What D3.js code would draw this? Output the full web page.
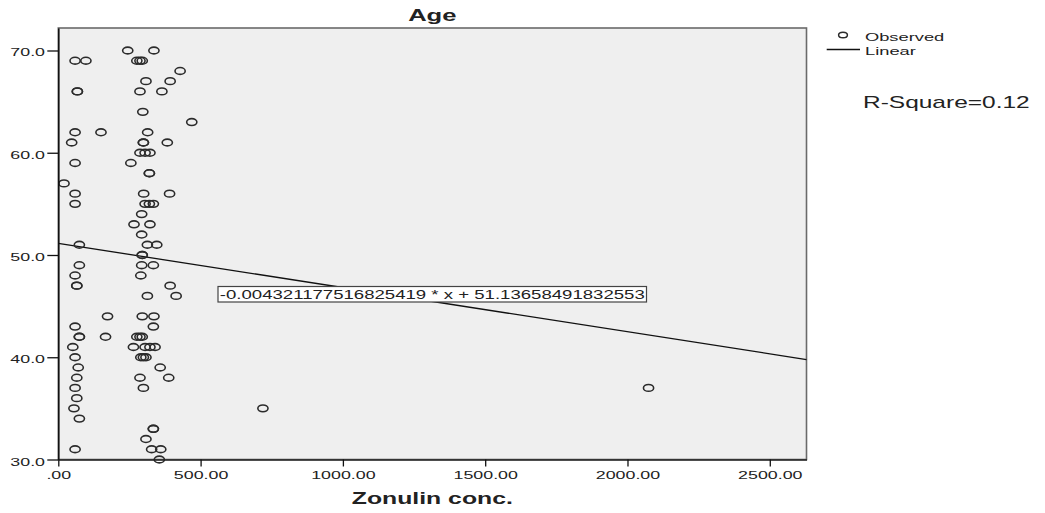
<!DOCTYPE html>
<html>
<head>
<meta charset="utf-8">
<script src="https://cdn.jsdelivr.net/npm/d3@7"></script>
<style>
  html, body { margin: 0; padding: 0; background: #ffffff; }
  svg text { font-family: "Liberation Sans", Arial, sans-serif; fill: #222; }
</style>
</head>
<body>
<svg id="chart" width="1045" height="513"></svg>
<script>
// Observed values: zonulin concentration and age for each subject
const zonulin = [
  244, 336,
  59, 97, 276, 287, 295,
  428,
  308, 393,
  67, 67, 287, 364,
  297,
  469,
  59, 150, 314,
  47, 299, 299, 383,
  287, 305, 322,
  59, 255,
  320, 320,
  20,
  59, 300, 391,
  59, 305, 320, 334,
  293,
  266, 322,
  293,
  74, 313, 346,
  295, 295,
  74, 293, 334,
  59, 290,
  65, 65, 393,
  313, 414,
  173, 295, 336,
  59, 334,
  74, 74, 166, 276, 287, 295,
  51, 264, 305, 322, 340,
  59, 290, 299, 308,
  70, 358,
  65, 287, 388,
  59, 299, 2074,
  65,
  55, 719,
  74,
  334, 334,
  308,
  59, 328, 360,
  355
];
const age = [
  70, 70,
  69, 69, 69, 69, 69,
  68,
  67, 67,
  66, 66, 66, 66,
  64,
  63,
  62, 62, 62,
  61, 61, 61, 61,
  60, 60, 60,
  59, 59,
  58, 58,
  57,
  56, 56, 56,
  55, 55, 55, 55,
  54,
  53, 53,
  52,
  51, 51, 51,
  50, 50,
  49, 49, 49,
  48, 48,
  47, 47, 47,
  46, 46,
  44, 44, 44,
  43, 43,
  42, 42, 42, 42, 42, 42,
  41, 41, 41, 41, 41,
  40, 40, 40, 40,
  39, 39,
  38, 38, 38,
  37, 37, 37,
  36,
  35, 35,
  34,
  33, 33,
  32,
  31, 31, 31,
  30
];

// Fitted linear model
const slope = -0.004321177516825419;
const intercept = 51.13658491832553;
const equationLabel = "-0.004321177516825419 * x + 51.13658491832553";
const rSquareLabel = "R-Square=0.12";

const xTicks = [0, 500, 1000, 1500, 2000, 2500];
const yTicks = [30, 40, 50, 60, 70];
const xDomain = [0, 2629];
const yDomain = [30, 72.2];

const titleText = "Age";
const xTitleText = "Zonulin conc.";
const legendLabels = ["Observed", "Linear"];

const SX = 1.55; // horizontal stretch of all lettering

const svg = d3.select("#chart");
const plot = { left: 58.3, right: 806.5, top: 28, bottom: 459.5 };

const x = d3.scaleLinear().domain(xDomain).range([plot.left, plot.right]);
const y = d3.scaleLinear().domain(yDomain).range([plot.bottom, plot.top]);

function stretchedText(parent, tx, ty, str, opts = {}) {
  return parent.append("text")
    .attr("transform", `translate(${tx},${ty}) scale(${SX},1)`)
    .attr("text-anchor", opts.anchor || "start")
    .attr("font-size", opts.size || 12)
    .attr("font-weight", opts.weight || "normal")
    .text(str);
}

// Plot background and frame
svg.append("rect")
  .attr("x", plot.left).attr("y", plot.top)
  .attr("width", plot.right - plot.left)
  .attr("height", plot.bottom - plot.top)
  .attr("fill", "#efefef")
  .attr("stroke", "#6a6a6a")
  .attr("stroke-width", 1.6);

// Regression line across the full x range
const lineData = xDomain.map(v => [v, intercept + slope * v]);
svg.append("path")
  .datum(lineData)
  .attr("d", d3.line().x(d => x(d[0])).y(d => y(d[1])))
  .attr("fill", "none")
  .attr("stroke", "#111")
  .attr("stroke-width", 1.3);

// Observed points (open circles)
svg.append("g").selectAll("ellipse")
  .data(zonulin.map((v, i) => [v, age[i]]))
  .join("ellipse")
  .attr("cx", d => x(d[0]))
  .attr("cy", d => y(d[1]))
  .attr("rx", 5.1)
  .attr("ry", 3.4)
  .attr("fill", "none")
  .attr("stroke", "#2b2b2b")
  .attr("stroke-width", 1.6);

// Equation box
const eqG = svg.append("g");
eqG.append("rect")
  .attr("x", 218).attr("y", 286.5)
  .attr("width", 428.5).attr("height", 15.5)
  .attr("fill", "#ffffff")
  .attr("stroke", "#444")
  .attr("stroke-width", 1.2);
stretchedText(eqG, 432.3, 298.8, equationLabel, { anchor: "middle", size: 12 });

// Y axis
const yAxis = svg.append("g")
  .attr("transform", `translate(${plot.left},0)`)
  .call(d3.axisLeft(y).tickValues(yTicks).tickFormat(d3.format(".1f")).tickSize(11).tickSizeOuter(0));
yAxis.select(".domain").attr("stroke", "#111").attr("stroke-width", 1.6);
yAxis.selectAll(".tick line").attr("stroke", "#111").attr("stroke-width", 1.3);
yAxis.selectAll(".tick text")
  .attr("x", null).attr("dy", null)
  .attr("transform", `translate(-13.3,5.5) scale(${SX},1)`)
  .attr("font-size", 11.5)
  .attr("font-family", "Liberation Sans, Arial, sans-serif")
  .attr("fill", "#222");

// X axis
const xAxis = svg.append("g")
  .attr("transform", `translate(0,${plot.bottom})`)
  .call(d3.axisBottom(x).tickValues(xTicks)
    .tickFormat(d => d === 0 ? ".00" : d3.format(".2f")(d))
    .tickSize(7).tickSizeOuter(0));
xAxis.select(".domain").attr("stroke", "#222").attr("stroke-width", 1.6);
xAxis.selectAll(".tick line").attr("stroke", "#111").attr("stroke-width", 1.3);
xAxis.selectAll(".tick text")
  .attr("y", null).attr("dy", null)
  .attr("transform", `translate(0,19) scale(${SX},1)`)
  .attr("font-size", 11.5)
  .attr("font-family", "Liberation Sans, Arial, sans-serif")
  .attr("fill", "#222");

// Titles
stretchedText(svg, 432.3, 21, titleText, { anchor: "middle", size: 16.5, weight: "bold" });
stretchedText(svg, 432.3, 504, xTitleText, { anchor: "middle", size: 16, weight: "bold" });

// Legend
const lg = svg.append("g");
lg.append("ellipse")
  .attr("cx", 843).attr("cy", 35)
  .attr("rx", 4.4).attr("ry", 2.8)
  .attr("fill", "none").attr("stroke", "#2b2b2b").attr("stroke-width", 1.5);
stretchedText(lg, 865, 40.5, legendLabels[0], { size: 11.8 });
lg.append("line")
  .attr("x1", 826.7).attr("x2", 860)
  .attr("y1", 49.5).attr("y2", 49.5)
  .attr("stroke", "#111").attr("stroke-width", 1.3);
stretchedText(lg, 865, 55, legendLabels[1], { size: 11.8 });

stretchedText(svg, 863, 107.5, rSquareLabel, { size: 15.8 });
</script>
</body>
</html>
